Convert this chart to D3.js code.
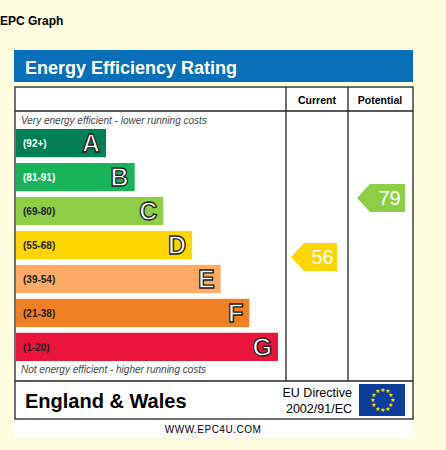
<!DOCTYPE html><html><head><meta charset="utf-8"><script src="https://cdn.jsdelivr.net/npm/d3@7"></script>
<style>body{margin:0;background:#fffde0;font-family:Arial,"Liberation Sans",sans-serif}</style></head><body><svg id="c" width="446" height="450"></svg>
<script>
const bands=["A","B","C","D","E","F","G"];
const ranges=["(92+)","(81-91)","(69-80)","(55-68)","(39-54)","(21-38)","(1-20)"];
const colors=["#008054","#19b459","#8dce46","#ffd500","#fcaa65","#ef8023","#e9153b"];
const current=[56], potential=[79];
const svg=d3.select("#c");
const F="Arial, 'Liberation Sans', sans-serif";
svg.append("text").attr("x",0).attr("y",25).attr("font-family",F).attr("font-weight","bold").attr("font-size",12).text("EPC Graph");
svg.append("rect").attr("x",14).attr("y",50).attr("width",399).attr("height",32).attr("fill","#0a6fb9");
svg.append("text").attr("x",25).attr("y",74).attr("fill","#fff").attr("font-family",F).attr("font-weight","bold").attr("font-size",18).text("Energy Efficiency Rating");
svg.append("rect").attr("x",14).attr("y",88).attr("width",399).attr("height",349).attr("fill","#fff");
const g=svg.append("g").attr("stroke","#222").attr("stroke-width",1.3).attr("fill","none");
g.append("rect").attr("x",15).attr("y",87).attr("width",398).attr("height",332);
g.append("line").attr("x1",15).attr("x2",413).attr("y1",111).attr("y2",111);
g.append("line").attr("x1",15).attr("x2",413).attr("y1",381).attr("y2",381);
[286,348].forEach(x=>g.append("line").attr("x1",x).attr("x2",x).attr("y1",87).attr("y2",381));
svg.append("text").attr("x",317).attr("y",104).attr("text-anchor","middle").attr("font-family",F).attr("font-weight","bold").attr("font-size",10.5).text("Current");
svg.append("text").attr("x",380).attr("y",104).attr("text-anchor","middle").attr("font-family",F).attr("font-weight","bold").attr("font-size",10.5).text("Potential");
svg.append("text").attr("x",21).attr("y",124).attr("font-family",F).attr("font-style","italic").attr("font-size",10).attr("fill","#444").text("Very energy efficient - lower running costs");
svg.append("text").attr("x",21).attr("y",373).attr("font-family",F).attr("font-style","italic").attr("font-size",10).attr("fill","#444").text("Not energy efficient - higher running costs");
const y=d3.scaleBand().domain(bands).range([128,362]).paddingInner(0.17).paddingOuter(0.03);
const w=d3.scaleLinear().domain([0,6]).range([90,262]);
const bg=svg.selectAll(".b").data(bands).join("g").attr("transform",d=>`translate(16,${y(d)})`);
bg.append("rect").attr("width",(d,i)=>w(i)).attr("height",y.bandwidth()).attr("fill",(d,i)=>colors[i]);
bg.append("text").attr("x",7).attr("y",y.bandwidth()/2+4).attr("font-family",F).attr("font-weight","bold").attr("font-size",10).attr("fill",(d,i)=>i==0||i==1?"#fff":"#222").text((d,i)=>ranges[i]);
bg.append("text").attr("x",(d,i)=>w(i)-6).attr("y",y.bandwidth()/2+9).attr("text-anchor","end").attr("font-family",F).attr("font-weight","bold").attr("font-size",25).attr("fill","#fff").attr("stroke","#222").attr("stroke-width",1.3).text(d=>d);
const vy=d3.scaleLinear().domain([1,100]).range([398,144]);
const col=v=>colors[v>=92?0:v>=81?1:v>=69?2:v>=55?3:v>=39?4:v>=21?5:6];
function arrow(vals,x0,x1){
 vals.forEach(v=>{const c=vy(v),h=14;
  svg.append("path").attr("d",`M${x0},${c} L${x0+13},${c-h} L${x1},${c-h} L${x1},${c+h} L${x0+13},${c+h}Z`).attr("fill",col(v));
  svg.append("text").attr("x",(x0+13+x1)/2+2).attr("y",c+7).attr("text-anchor","middle").attr("font-family",F).attr("font-size",20).attr("fill","#fff").text(v);});
}
arrow(current,291,337);arrow(potential,357,405);
svg.append("text").attr("x",25).attr("y",408).attr("font-family",F).attr("font-weight","bold").attr("font-size",20).text("England & Wales");
svg.append("text").attr("x",352).attr("y",397).attr("text-anchor","end").attr("font-family",F).attr("font-size",12.5).text("EU Directive");
svg.append("text").attr("x",352).attr("y",413).attr("text-anchor","end").attr("font-family",F).attr("font-size",12.5).text("2002/91/EC");
svg.append("rect").attr("x",359).attr("y",384).attr("width",46).attr("height",32).attr("fill","#0d3d9a");
d3.range(12).forEach(i=>{const a=i*Math.PI/6;svg.append("text").attr("x",382+10*Math.cos(a)).attr("y",400+10*Math.sin(a)+2).attr("text-anchor","middle").attr("font-size",6).attr("fill","#ffdd00").text("★");});
svg.append("text").attr("x",213).attr("y",433).attr("text-anchor","middle").attr("font-family",F).attr("font-size",10).attr("letter-spacing",0.5).text("WWW.EPC4U.COM");
</script></body></html>
